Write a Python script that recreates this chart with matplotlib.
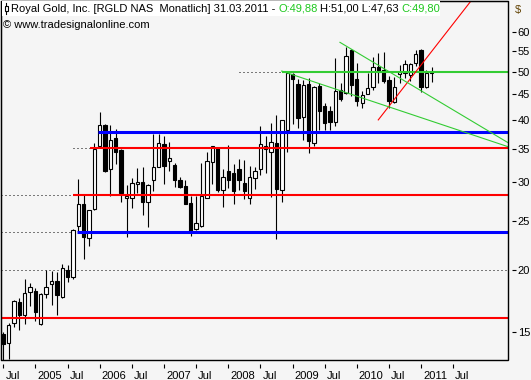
"""Royal Gold (RGLD) monthly candles with support/resistance lines, Tradesignal look."""
import numpy as np
import pandas as pd
import matplotlib
matplotlib.use("Agg")
import matplotlib.pyplot as plt
from matplotlib.patches import Rectangle
from matplotlib.transforms import ScaledTranslation

plt.rcParams.update({"font.family": ["Liberation Sans", "DejaVu Sans"]})

# monthly bars, Jul 2004 .. Mar 2011
months = pd.period_range("2004-07", "2011-03", freq="M")
opens = [14.82, 14.2, 15.61, 17.24, 16.18, 18.02, 18.1, 15.53, 17.86, 18.66, 19.0, 17.6, 19.98, 19.3,
         24.46, 27.1, 23.1, 26.45, 35.4, 39.0, 31.9, 36.8, 34.85, 27.8, 27.9, 29.7, 30.0, 27.4, 30.25, 32.1,
         35.85, 33.1, 32.5, 30.25, 29.4, 27.2, 24.1, 24.5, 27.9, 32.85, 35.1, 28.85, 31.5, 31.3,
         31.9, 29.9, 27.9, 30.5, 31.9, 35.0, 34.4, 35.9, 28.85, 38.1, 49.4, 47.2, 40.6, 47.2, 35.9,
         46.8, 42.6, 41.6, 39.6, 46.0, 45.3, 55.2, 48.3, 43.3, 45.2, 46.5, 51.0, 50.5, 48.1, 43.5,
         49.5, 49.6, 49.3, 52.0, 55.2, 46.6, 49.88]
highs = [14.95, 15.6, 17.4, 17.5, 19.13, 18.83, 18.34, 17.9, 20.0, 19.9, 19.75, 20.54, 20.45, 24.1,
         30.37, 28.3, 26.4, 35.9, 41.5, 39.17, 39.0, 38.4, 35.0, 29.6, 30.5, 32.0, 32.1, 29.7, 37.5, 37.5,
         37.2, 36.05, 32.8, 30.65, 30.25, 28.1, 28.1, 32.8, 34.4, 35.5, 35.2, 31.8, 35.6, 32.6,
         33.3, 33.2, 32.35, 32.1, 38.9, 37.1, 39.5, 41.0, 40.0, 50.0, 49.8, 48.3, 48.1, 48.5, 46.8,
         47.4, 43.3, 42.6, 53.2, 47.4, 56.0, 55.5, 52.0, 45.8, 49.6, 53.5, 54.5, 54.7, 49.0, 48.9,
         51.6, 52.8, 52.0, 55.2, 55.6, 50.4, 51.00]
lows = [13.0, 13.2, 15.3, 15.13, 15.53, 16.87, 15.79, 15.45, 17.5, 17.0, 16.2, 17.5, 18.9, 19.17,
        23.9, 21.0, 22.3, 26.4, 35.15, 31.4, 28.1, 32.6, 27.4, 23.2, 26.6, 28.5, 25.8, 24.3, 28.8, 32.1,
        29.75, 31.5, 29.3, 29.2, 27.05, 23.4, 24.05, 24.3, 27.8, 29.75, 28.6, 26.7, 29.15, 27.1,
        28.95, 27.7, 27.15, 29.0, 31.0, 31.3, 28.0, 23.0, 27.4, 34.5, 39.3, 38.6, 36.5, 34.3, 35.4,
        38.1, 38.1, 38.1, 38.9, 43.6, 45.2, 44.6, 42.6, 42.3, 45.1, 46.0, 47.5, 47.4, 42.2, 43.3,
        47.4, 48.6, 47.8, 51.3, 45.5, 46.3, 47.63]
closes = [14.13, 15.45, 17.31, 16.18, 17.97, 18.41, 16.45, 17.87, 18.47, 18.97, 17.77, 20.1, 19.3, 24.03,
          27.1, 23.2, 26.3, 35.0, 39.1, 31.5, 36.4, 34.5, 28.5, 28.1, 29.8, 30.0, 27.4, 29.6, 32.1, 36.0,
          32.35, 33.5, 30.25, 29.3, 27.15, 23.9, 24.8, 28.1, 33.05, 35.4, 28.85, 30.65, 30.25, 28.8,
          30.25, 28.8, 30.7, 31.6, 35.8, 35.4, 36.1, 29.0, 39.95, 49.6, 48.3, 40.3, 47.0, 36.2, 46.6,
          41.7, 39.4, 39.6, 45.8, 44.1, 53.9, 47.1, 43.6, 44.9, 46.3, 51.0, 50.0, 47.8, 43.7, 46.6,
          50.0, 51.8, 51.8, 54.4, 46.6, 49.6, 49.80]

# horizontal levels: price, colour, width(pt), solid-from bar index, dotted-from bar index (None = no dots)
level_prices = [16.0, 23.76, 28.3, 35.2, 37.76, 50.0]
level_colors = ["#ff0000", "#0000ff", "#ff0000", "#ff0000", "#0000ff", "#33cc33"]
level_widths = [1.5, 2.2, 1.5, 1.5, 2.2, 1.5]
level_start = [-0.5, 13.8, 13.0, 16.2, 17.7, 52.0]
level_dots = [None, -0.5, -0.5, 13.0, None, 44.0]
grid_dotted = 20.0

# trendlines as (bar index, price) pairs
trend_x = [(70.0, 83.07), (51.97, 88.99), (62.85, 88.99)]
trend_p = [(40.0, 60.65), (50.16, 36.9), (57.3, 38.9)]
trend_c = ["#ff0000", "#33cc33", "#33cc33"]

W, H = 531, 380
FS = 8
fig = plt.figure(figsize=(W / 100, H / 100), dpi=100, facecolor="#f5f5f5")
ax = fig.add_axes([1 / W, (H - 360) / H, 507 / W, 359 / H], facecolor="#f5f5f5")

o, h, l, c = map(np.asarray, (opens, highs, lows, closes))
x = np.arange(len(months))
up = c >= o
lo_b, hi_b = np.minimum(o, c), np.maximum(o, c)
ax.vlines(x, l, h, color="black", lw=0.8, zorder=3)
ax.bar(x, hi_b - lo_b, bottom=lo_b, width=0.62, color=np.where(up, "white", "black"),
       edgecolor="black", linewidth=0.8, zorder=4)

xmin, xmax = -0.43, 94.22
ax.set_yscale("log")
ax.set_xlim(xmin, xmax)
ax.set_ylim(13.15, 69.4)

ax.hlines(grid_dotted, xmin, xmax, color="black", lw=0.72, ls=(0, (1, 3)), zorder=2)
for p, col, w, s, d in zip(level_prices, level_colors, level_widths, level_start, level_dots):
    if d is not None:
        ax.hlines(p, d, s, color="black", lw=0.72, ls=(0, (1, 3)), zorder=2)
    ax.hlines(p, s, xmax, color=col, lw=w, zorder=5)

for (x0, x1), (p0, p1), col in zip(trend_x, trend_p, trend_c):
    k = (np.log(p1) - np.log(p0)) / (x1 - x0)
    xs = np.array([x0, xmax])
    ax.plot(xs, np.exp(np.log(p0) + k * (xs - x0)), color=col, lw=0.8, zorder=6)

# axes: ticks detached from frame
for side in ("right", "bottom"):
    ax.spines[side].set_position(("outward", 3))
    ax.spines[side].set_color("none")
ax.add_patch(Rectangle((0, 0), 1, 1, transform=ax.transAxes, fill=False,
                       edgecolor="black", lw=1, clip_on=False, zorder=10))

yt = [15, 20, 25, 30, 35, 40, 45, 50, 55, 60]
ax.yaxis.tick_right()
ax.set_yticks(yt)
ax.set_yticklabels([str(v) for v in yt])
ax.yaxis.set_minor_locator(matplotlib.ticker.NullLocator())
ax.tick_params(axis="y", length=3, width=0.8, pad=1, labelsize=FS)

xt = list(range(0, 85, 6))
xl = [("Jul" if (months[0] + i).month == 7 else str((months[0] + i).year)) for i in xt]
ax.set_xticks(xt)
ax.set_xticklabels(xl)
ax.tick_params(axis="x", length=3, width=0.8, pad=2, labelsize=FS)
off = ScaledTranslation(2 / 100, 0, fig.dpi_scale_trans)
for t in ax.get_xticklabels():
    t.set_ha("left")
    t.set_transform(t.get_transform() + off)

fig.text(515 / W, 1 - 10 / H, "$", fontsize=FS, ha="left", va="center", color="#604000")

# header line
fig.add_artist(Rectangle((2 / W, 1 - 16 / H), 438 / W, 15 / H, transform=fig.transFigure,
                         facecolor="white", edgecolor="none", zorder=20))
fig.add_artist(plt.Line2D([6 / W, 6 / W], [1 - 3 / H, 1 - 14 / H], transform=fig.transFigure,
                          color="black", lw=0.8, zorder=21))
fig.add_artist(Rectangle((4.5 / W, 1 - 11 / H), 3 / W, 5 / H, transform=fig.transFigure,
                         facecolor="white", edgecolor="black", lw=0.8, zorder=22))
rend = fig.canvas.get_renderer()
pieces = [("Royal Gold, Inc. [RGLD NAS  Monatlich] 31.03.2011 -", "black"),
          ("O:49,88", "#1ec81e"), ("H:51,00 L:47,63", "black"), ("C:49,80", "#1ec81e")]
px = 11
for s, col in pieces:
    t = fig.text(px / W, 1 - 8.5 / H, s, fontsize=FS, color=col, ha="left", va="center", zorder=23)
    px = t.get_window_extent(rend).x1 + 2.8
fig.text(3 / W, 1 - 25 / H, "\u00a9 www.tradesignalonline.com", fontsize=FS, ha="left", va="center")

fig.savefig("out.png", dpi=100, facecolor=fig.get_facecolor())
